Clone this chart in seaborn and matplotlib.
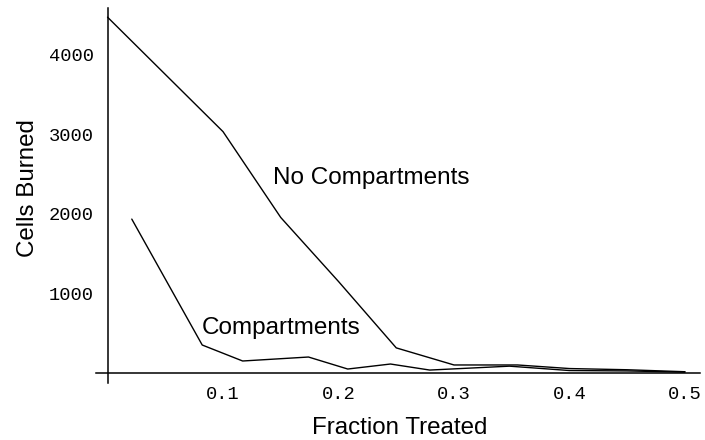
import numpy as np
import pandas as pd
import matplotlib
matplotlib.use("Agg")
import matplotlib.pyplot as plt
import seaborn as sns
from matplotlib.ticker import FixedLocator, MultipleLocator

# values
nocomp_x = [0.0, 0.05, 0.1, 0.15, 0.2, 0.25, 0.3, 0.355, 0.4, 0.45, 0.5]
nocomp_y = [4470, 3750, 3030, 1950, 1145, 310, 95, 95, 50, 35, 10]

comp_x = [0.021, 0.082, 0.117, 0.174, 0.208, 0.245, 0.279, 0.348, 0.4, 0.45, 0.5]
comp_y = [1930, 346, 145, 195, 44, 107, 31, 80, 25, 20, 5]

x_ticks = [0.1, 0.2, 0.3, 0.4, 0.5]
y_ticks = [1000, 2000, 3000, 4000]

df = pd.concat([
    pd.DataFrame({"frac": nocomp_x, "cells": nocomp_y, "series": "No Compartments"}),
    pd.DataFrame({"frac": comp_x, "cells": comp_y, "series": "Compartments"}),
])

sns.set_style("white")
plt.rcParams["font.family"] = ["Liberation Sans", "DejaVu Sans"]
plt.rcParams["text.color"] = "black"
plt.rcParams["axes.labelcolor"] = "black"

fig = plt.figure(figsize=(7.05, 4.40), dpi=100)
ax = fig.add_axes([0.1362, 0.1295, 0.8567, 0.8523])

sns.lineplot(data=df, x="frac", y="cells", hue="series",
             palette={"No Compartments": "black", "Compartments": "black"},
             estimator=None, linewidth=1.0, legend=False, ax=ax)

ax.set_xlim(-0.00996, 0.513)
ax.set_ylim(-132, 4585)

# Mathematica-style crossing axes
for s in ["top", "right"]:
    ax.spines[s].set_visible(False)
ax.spines["left"].set_position(("data", 0))
ax.spines["bottom"].set_position(("data", 0))
for s in ["left", "bottom"]:
    ax.spines[s].set_linewidth(1.1)
    ax.spines[s].set_color("black")

ax.xaxis.set_major_locator(FixedLocator(x_ticks))
ax.xaxis.set_minor_locator(MultipleLocator(0.02))
ax.yaxis.set_major_locator(FixedLocator(y_ticks))
ax.yaxis.set_minor_locator(MultipleLocator(200))
ax.set_xticklabels([f"{v:.1f}" for v in x_ticks])
ax.set_yticklabels([str(v) for v in y_ticks])

ax.tick_params(which="major", direction="in", length=4, width=0.9, colors="black", pad=10)
ax.tick_params(which="minor", direction="in", length=2.5, width=0.8, colors="black")
for lab in ax.get_xticklabels() + ax.get_yticklabels():
    lab.set_family("Liberation Mono")
    lab.set_fontsize(13.5)

ax.set_xlabel("Fraction Treated", fontsize=17.4)
ax.set_ylabel("Cells Burned", fontsize=17.4)
ax.xaxis.set_label_coords(0.503, -0.09)
ax.yaxis.set_label_coords(-0.095, 0.52)

ax.text(0.143, 2450, "No Compartments", fontsize=17.5, ha="left", va="center")
ax.text(0.082, 560, "Compartments", fontsize=17.5, ha="left", va="center")

fig.savefig("out.png", dpi=100)
